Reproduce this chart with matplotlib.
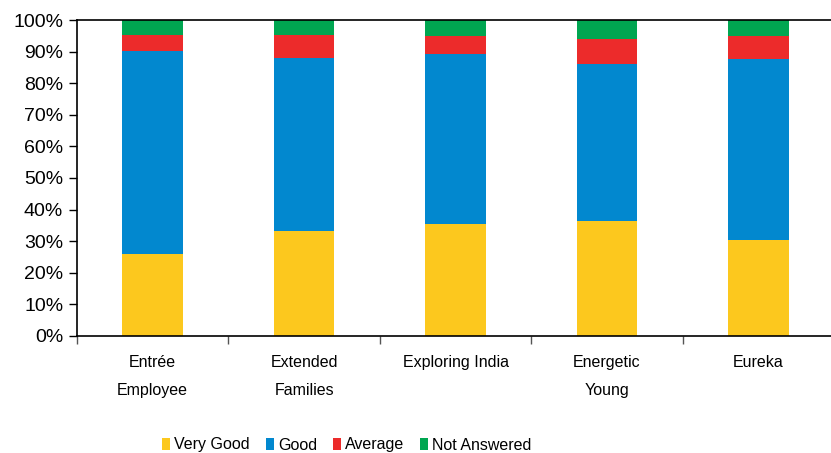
import numpy as np
import matplotlib.pyplot as plt
from matplotlib.ticker import PercentFormatter

# --- DATA ---
categories = ["Entrée\nEmployee", "Extended\nFamilies", "Exploring India", "Energetic\nYoung", "Eureka"]
series_names = ["Very Good", "Good", "Average", "Not Answered"]
very_good = [25.8, 33.2, 35.4, 36.4, 30.3]
good = [64.5, 54.7, 53.9, 49.7, 57.5]
average = [5.0, 7.4, 5.8, 7.9, 7.3]
not_answered = [4.7, 4.7, 4.9, 6.0, 4.9]

colors = ["#FCC81E", "#0288CF", "#EC2B2B", "#00A651"]

FONT = ["Liberation Sans", "DejaVu Sans"]

fig = plt.figure(figsize=(8.31, 4.53), dpi=100)
ax = fig.add_axes([0.0927, 0.259, 0.9109, 0.6963])

x = np.arange(len(categories))
bottom = np.zeros(len(categories))
for name, vals, c in zip(series_names, [very_good, good, average, not_answered], colors):
    ax.bar(x, vals, width=0.40, bottom=bottom, color=c, label=name, zorder=2)
    bottom += np.array(vals)

ax.set_xlim(-0.5, len(categories) - 0.5)
ax.set_ylim(0, 100)
ax.set_yticks(np.arange(0, 101, 10))
ax.yaxis.set_major_formatter(PercentFormatter(decimals=0))

# category boundaries carry the tick marks, labels sit at the centres
ax.set_xticks(np.arange(len(categories) + 1) - 0.5)
ax.set_xticklabels([])
ax.set_xticks(x, minor=True)
ax.set_xticklabels(categories, minor=True, fontsize=11.5, family=FONT, linespacing=2.1)
ax.tick_params(axis="x", which="minor", length=0, pad=14)
ax.tick_params(axis="x", which="major", length=6, width=1, color="#555555", direction="out")
ax.tick_params(axis="y", length=6, width=1, direction="out", pad=4)
for lab in ax.get_yticklabels():
    lab.set_fontsize(14)
    lab.set_family(FONT)

for side in ["left", "bottom", "top"]:
    ax.spines[side].set_color("black")
    ax.spines[side].set_linewidth(1.2)
ax.spines["right"].set_visible(False)

leg = fig.legend(loc="center", bbox_to_anchor=(347 / 831, 1 - 445 / 453), ncol=4,
                 frameon=False, prop={"family": FONT, "size": 11.5},
                 handlelength=0.5, handleheight=0.82, handletextpad=0.25,
                 columnspacing=1.0, borderaxespad=0)

fig.savefig("out.png", dpi=100)
